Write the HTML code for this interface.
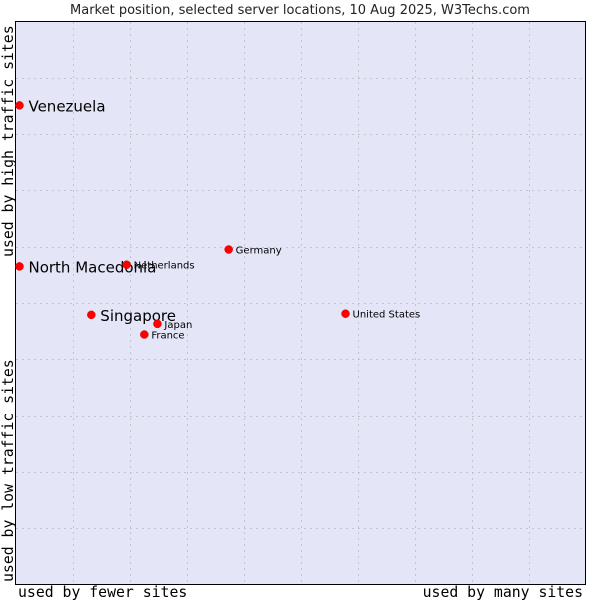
<!DOCTYPE html>
<html><head><meta charset="utf-8">
<style>
body{margin:0;width:600px;height:600px;background:#fff;overflow:hidden}
svg text{font-family:"DejaVu Sans",sans-serif}
svg text.mono{font-family:"DejaVu Sans Mono","Liberation Mono",monospace}
</style></head>
<body>
<svg width="600" height="600">
<text x="300" y="14" text-anchor="middle" font-size="13" fill="#222">Market position, selected server locations, 10 Aug 2025, W3Techs.com</text>
<rect x="15.5" y="21.5" width="570" height="563" fill="#e4e6f8" stroke="#000"/>
<g id="grid"></g>
<g id="pts"></g>
<text class="mono" x="18" y="597" font-size="14.8" fill="#000">used by fewer sites</text>
<text class="mono" x="583" y="597" text-anchor="end" font-size="14.8" fill="#000">used by many sites</text>
<text class="mono" transform="translate(13,582) rotate(-90)" font-size="14.8" fill="#000">used by low traffic sites</text>
<text class="mono" transform="translate(13,257) rotate(-90)" font-size="14.8" fill="#000">used by high traffic sites</text>
</svg>
<script>
const names=["Venezuela","North Macedonia","Singapore","Netherlands","Germany","Japan","France","United States"];
const xVals=[0.7,0.7,13.3,19.5,37.4,24.9,22.6,57.9];
const yVals=[85.1,56.5,47.9,56.8,59.5,46.3,44.4,48.1];
const big=[true,true,true,false,false,false,false,false];
const X0=15.5,W=570,Y0=584.5,H=563;
const sx=v=>X0+v/100*W, sy=v=>Y0-v/100*H;
const ns="http://www.w3.org/2000/svg";
const g=document.getElementById('grid');
for(let i=1;i<10;i++){
  const l=document.createElementNS(ns,'line');
  
  
  const x=Math.round(sx(i*10))+0.5;
  l.setAttribute('x1',x);l.setAttribute('x2',x);l.setAttribute('y1',22);l.setAttribute('y2',584);
  l.setAttribute('stroke','#c4c4c8');l.setAttribute('stroke-dasharray','2,4');g.appendChild(l);
  const h=document.createElementNS(ns,'line');
  
  
  const y=Math.round(sy(i*10))+0.5;
  h.setAttribute('x1',16);h.setAttribute('x2',585);h.setAttribute('y1',y);h.setAttribute('y2',y);
  h.setAttribute('stroke','#c4c4c8');h.setAttribute('stroke-dasharray','2,4');g.appendChild(h);
}
const p=document.getElementById('pts');
names.forEach((n,i)=>{
  const x=sx(xVals[i]),y=sy(yVals[i]);
  const d=document.createElementNS(ns,'circle');
  
  
  d.setAttribute('cx',x);d.setAttribute('cy',y);d.setAttribute('r',4);
  d.setAttribute('fill','#f00');d.setAttribute('stroke','#d00');d.setAttribute('stroke-width','0.5');
  p.appendChild(d);
  const t=document.createElementNS(ns,'text');
  
  
  t.setAttribute('x',x+(big[i]?9:7));t.setAttribute('y',y+(big[i]?6:4));
  t.setAttribute('font-size',big[i]?15:10);t.setAttribute('fill','#000');
  t.textContent=n;p.appendChild(t);
});
</script>
</body></html>
